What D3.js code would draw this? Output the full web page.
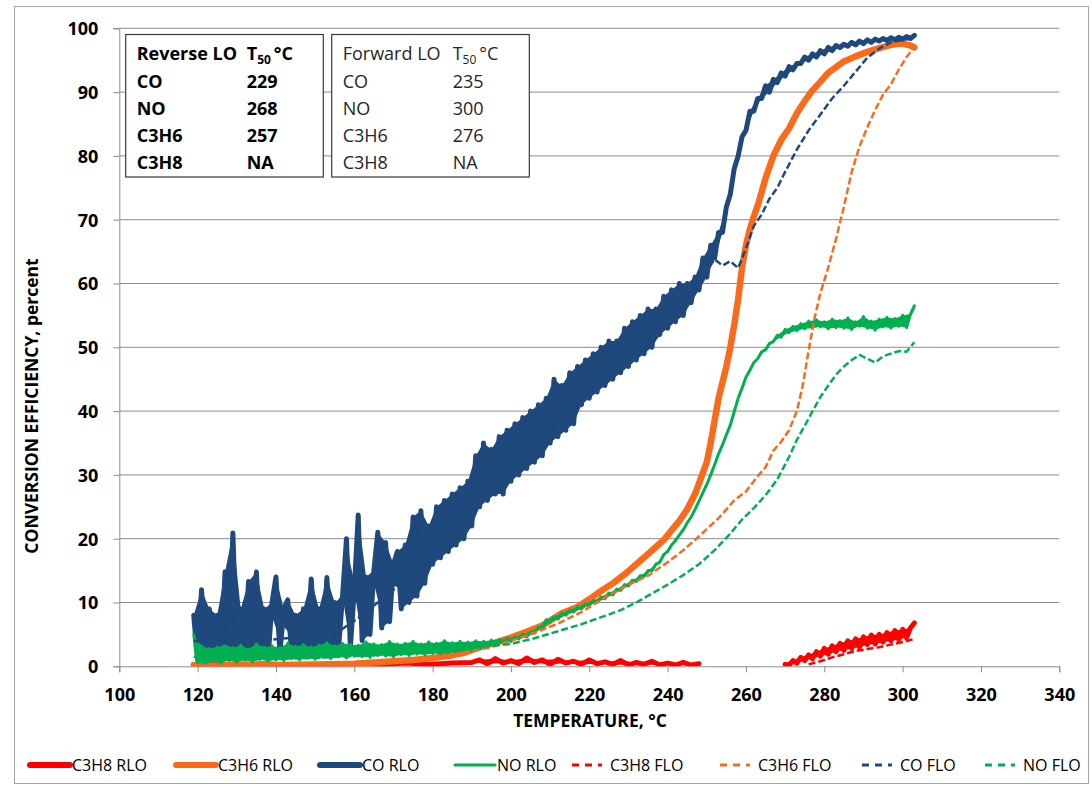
<!DOCTYPE html>
<html>
<head>
<meta charset="utf-8">
<script src="https://cdn.jsdelivr.net/npm/d3@7"></script>
<style>
  body { margin: 0; background: #fff; }
  text { font-family: "Open Sans", sans-serif; }
</style>
</head>
<body>
<div id="chart"></div>
<script>
// temperature grid (deg C) for the densely logged RLO traces
const tempsDense = [
  119,120,121,122,123,124,125,126,127,128,
  129,130,131,132,133,134,135,136,137,138,
  139,140,141,142,143,144,145,146,147,148,
  149,150,151,152,153,154,155,156,157,158,
  159,160,161,162,163,164,165,166,167,168,
  169,170,171,172,173,174,175,176,177,178,
  179,180,181,182,183,184,185,186,187,188,
  189,190,191,192,193,194,195,196,197,198,
  199,200,201,202,203,204,205,206,207,208,
  209,210,211,212,213,214,215,216,217,218,
  219,220,221,222,223,224,225,226,227,228,
  229,230,231,232,233,234,235,236,237,238,
  239,240,241,242,243,244,245,246,247,248,
  249,250,251,252,253,254,255,256,257,258,
  259,260,261,262,263,264,265,266,267,268,
  269,270,271,272,273,274,275,276,277,278,
  279,280,281,282,283,284,285,286,287,288,
  289,290,291,292,293,294,295,296,297,298,
  299,300,301,302,303
];

const coRLO = [
  8,1,12,2,9,1,8,2,14.8,3,
  20.9,2,9,1.5,13.3,2,14.8,2.5,9,1.5,
  10,14,2,9,10.4,2,8,1.5,9,2,
  13.7,3,9,2,13.9,2.5,10,3,11,20,
  3,12,23.7,4,14,5,15,21,6,19.4,
  7,16,18,9,19,10,23.4,11,24.4,13,
  22,16,25,17,26,18,27,19,28,20,
  29,22,33,25,35,26,34,27,36,27,
  37,29,38,30,39,31,40,32,41,33,
  42,35,45,36,44,37,46,38,47,41,
  48,42,49,43,50,44,51,45,51,46,
  53,47,54,48,55,49,56,50,56,52,
  58,53,59,54,60,55,60,57,61,59,
  64,61,66,64,68,68,72,74,78,80,
  83,84,87,87,89,89,91,90,92,91.5,
  93,92.5,94,93.5,94.5,94.5,95.5,95,96,95.5,
  96.5,96,97,96.5,97.3,97,97.5,97.2,97.8,97.4,
  98,97.6,98.2,97.8,98.3,98,98.4,98.1,98.5,98.2,
  98.6,98.3,98.7,98.4,98.9
];

const noRLO = [
  5,0.5,3.2,0.4,2.8,0.8,3.0,0.5,3.4,0.9,
  2.9,0.6,3.3,1.0,2.7,0.7,3.5,1.1,3.0,0.8,
  3.2,1.0,2.9,0.9,3.6,1.2,3.1,1.0,3.4,1.3,
  3.0,1.1,3.3,1.4,3.7,1.2,3.2,1.5,3.6,1.3,
  3.4,1.6,3.3,1.5,3.8,1.4,3.5,1.7,3.4,1.6,
  3.9,1.5,3.5,1.8,3.6,1.7,3.9,1.9,3.5,1.8,
  3.8,2.0,3.6,1.9,4.0,2.1,3.7,2.2,3.9,2.3,
  3.8,2.5,4.0,2.7,3.9,3.0,4.1,3.3,4.2,3.6,
  4.4,3.9,4.6,4.3,5.0,4.6,5.4,5.2,6.1,6.0,
  7.3,6.9,7.8,7.4,8.3,8.0,8.8,8.5,9.3,9.0,
  9.8,9.5,10.3,10.0,10.9,10.6,11.5,11.2,12.1,11.9,
  12.8,12.6,13.5,13.3,14.2,14.1,15.0,15.0,16.0,16.3,
  17.5,18.0,19.0,19.7,20.6,21.4,22.5,23.4,24.6,25.9,
  27.2,28.5,30.0,31.6,33.3,34.7,36.3,37.8,39.9,42.0,
  43.6,45.3,46.4,47.6,48.2,49.3,49.6,50.6,50.9,51.9,
  51.6,52.8,52.3,53.3,52.6,53.7,52.9,54.1,53.0,54.3,
  53.2,54.0,52.9,54.4,53.1,54.2,53.0,54.6,52.8,54.0,
  53.3,54.8,53.0,54.1,52.7,54.4,53.2,54.7,53.0,54.5,
  53.3,55.0,53.1,55.2,56.5
];

const c3h6RLOTemps = [119,125,130,140,150,160,165,170,175,180,184,188,192,196,200,204,208,213,217,220,
  223,226,229,232,235,239,241,243,245,247,248.5,250,251,252,253,254,255,256,257,258,
  259,260,261,262,263,264,265,267,269,271,273,275,277,279,281,283,285,288,291,294,297,300,302,303];
const c3h6RLO = [0.2,0.1,0.3,0.2,0.3,0.4,0.6,0.8,1.0,1.3,1.6,2.1,3.0,3.7,4.5,5.4,6.4,8.3,9.3,10.5,
  11.8,13.0,14.4,16.0,17.6,19.8,21.3,22.8,24.6,27.0,29.5,32.0,35.0,38.5,42.0,44.5,47.0,50.0,53.5,57.5,
  62.5,66.0,68.5,70.5,72.2,74.3,76.5,80.0,82.5,84.3,86.7,88.6,90.3,91.6,93.0,93.9,94.8,95.6,96.3,96.9,97.4,97.6,97.3,97.0];

const c3h8RLOTemps = [119,125,131,137,143,149,155,161,167,173,179,185,190,192,194,196,198,200,202,204,
  206,208,210,212,214,216,218,220,222,224,226,228,230,232,234,236,238,240,242,244,
  246,248,250,270,271,272,273,274,275,276,277,278,279,280,281,282,283,284,285,286,
  287,288,289,290,291,292,293,294,295,296,297,298,299,300,301,302,303];
const c3h8RLO = [0.2,0.3,0.2,0.4,0.2,0.3,0.2,0.4,0.3,0.5,0.3,0.5,0.6,1.0,0.4,1.2,0.5,0.9,0.4,1.3,
  0.6,1.0,0.3,1.1,0.5,0.8,0.3,1.0,0.4,0.7,0.3,0.9,0.2,0.6,0.3,0.8,0.2,0.5,0.2,0.6,
  0.2,0.4,null,0.3,0.2,0.9,0.5,1.4,0.9,1.8,1.2,2.3,1.6,2.8,1.9,3.2,2.3,3.6,2.5,4.0,
  2.8,4.3,3.0,4.6,3.4,4.9,3.5,5.0,3.8,5.3,4.0,5.6,4.2,5.8,4.5,6.0,6.8];

const c3h8FLOTemps = [276,279,282,285,288,291,294,297,300,303];
const c3h8FLO = [0.3,0.8,1.4,1.9,2.4,2.7,3.0,3.4,3.8,4.3];

const c3h6FLOTemps = [119,140,160,175,185,195,205,212,218,224,230,235,240,244,247,250,253,257,260,263,
  265,267,269,271,273,274.5,276,277.5,279,281,283,285,287,289,291,293,295,297,299,301,303];
const c3h6FLO = [0.1,0.2,0.4,1.0,1.8,3.0,5.0,6.7,8.5,10.8,12.8,14.2,16.3,18.2,19.8,21.5,23.2,26.0,27.4,29.8,
  31.2,33.8,35.2,37.0,40.0,44.0,49.5,54.5,58.5,62.5,67.0,72.0,77.5,81.5,84.5,87.2,89.6,91.2,93.5,95.5,97.0];

const coFLOTemps = [119,125,135,145,155,162,170,180,190,200,210,220,228,235,240,245,248,250,252,254,
  256,258,260,262,264,266,268,270,273,276,279,282,285,288,291,294,297,300,303];
const coFLO = [4,3.5,4,4.5,5,8,12,18,25,31,37,43,47.5,50,53.5,57,60,62,63.8,62.8,
  63.5,62.4,65.5,69,70.8,73.3,75,77.5,81,84,86.5,89,91,93.2,95.4,96.8,97.8,98.2,98.4];

const noFLOTemps = [119,130,140,150,160,170,180,190,200,206,212,218,224,228,232,236,240,244,248,252,
  256,259,262,265,268,271,273,275,277,279,281,283,285,287,289,291,293,295,297,299,301,303];
const noFLO = [1.5,1.0,1.2,1.3,1.6,1.9,2.3,2.9,3.5,4.4,5.5,6.6,7.9,8.8,10.0,11.4,12.8,14.3,16.0,18.2,
  20.8,23.0,24.8,26.8,29.3,32.8,35.5,37.7,40.0,42.2,44.0,45.7,47.0,48.0,48.8,48.2,47.6,48.6,49.0,49.4,49.3,50.8];

const xTicks = [100,120,140,160,180,200,220,240,260,280,300,320,340];
const yTicks = [0,10,20,30,40,50,60,70,80,90,100];

const reverseRows = [["CO","229"],["NO","268"],["C3H6","257"],["C3H8","NA"]];
const forwardRows = [["CO","235"],["NO","300"],["C3H6","276"],["C3H8","NA"]];

const colors = { c3h8: "#ff0000", c3h6: "#f96a1b", co: "#1f497d", no: "#00b050" };

// series in Excel draw order; "dense" ones are noisy logs drawn as a filled band
const series = [
  { name: "C3H8 RLO", t: c3h8RLOTemps, v: c3h8RLO, color: colors.c3h8, w: 5, dash: null, dense: true },
  { name: "C3H6 RLO", t: c3h6RLOTemps, v: c3h6RLO, color: colors.c3h6, w: 6.5, dash: null },
  { name: "CO RLO",   t: tempsDense,   v: coRLO,   color: colors.co,   w: 5, dash: null, dense: true },
  { name: "NO RLO",   t: tempsDense,   v: noRLO,   color: colors.no,   w: 3, dash: null, dense: true },
  { name: "C3H8 FLO", t: c3h8FLOTemps, v: c3h8FLO, color: colors.c3h8, w: 2.5, dash: "7,3" },
  { name: "C3H6 FLO", t: c3h6FLOTemps, v: c3h6FLO, color: colors.c3h6, w: 2.5, dash: "7,3" },
  { name: "CO FLO",   t: coFLOTemps,   v: coFLO,   color: colors.co,   w: 2.5, dash: "7,3" },
  { name: "NO FLO",   t: noFLOTemps,   v: noFLO,   color: colors.no,   w: 2.5, dash: "7,3" }
];

const width = 1092, height = 786;
const plot = { left: 119.3, right: 1059.3, top: 28.3, bottom: 666.3 };

const svg = d3.select("#chart").append("svg")
  .attr("width", width)
  .attr("height", height);

svg.append("rect")
  .attr("x", 14.5).attr("y", 6.5)
  .attr("width", 1074).attr("height", 777)
  .attr("fill", "#fff")
  .attr("stroke", "#a6a6a6");

const x = d3.scaleLinear().domain([100, 340]).range([plot.left, plot.right]);
const y = d3.scaleLinear().domain([0, 100]).range([plot.bottom, plot.top]);

// gridlines
svg.append("g")
  .selectAll("line")
  .data(yTicks.filter(d => d > 0))
  .join("line")
  .attr("x1", plot.left).attr("x2", plot.right)
  .attr("y1", d => y(d)).attr("y2", d => y(d))
  .attr("stroke", "#8c8c8c").attr("stroke-width", 1);

// axes
const yAxis = svg.append("g")
  .attr("transform", `translate(${plot.left},0)`)
  .call(d3.axisLeft(y).tickValues(yTicks).tickSize(6).tickPadding(15));
const xAxis = svg.append("g")
  .attr("transform", `translate(0,${plot.bottom})`)
  .call(d3.axisBottom(x).tickValues(xTicks).tickSize(6));

[yAxis, xAxis].forEach(g => {
  g.select(".domain").attr("stroke", "#8c8c8c");
  g.selectAll(".tick line").attr("stroke", "#8c8c8c");
  g.selectAll(".tick text")
    .attr("font-family", "Open Sans")
    .attr("font-size", 18)
    .attr("font-weight", "bold")
    .attr("fill", "#000");
});
yAxis.selectAll(".tick text").attr("dy", "0.36em");
xAxis.selectAll(".tick text").attr("dy", null).attr("y", 35);

// data lines
svg.append("clipPath").attr("id", "plotClip")
  .append("rect")
  .attr("x", plot.left).attr("y", plot.top - 4)
  .attr("width", plot.right - plot.left).attr("height", plot.bottom - plot.top + 4);

const lineGen = d3.line()
  .defined(d => d[1] != null)
  .x(d => x(d[0]))
  .y(d => y(d[1]));

// fills the gaps of a zigzag trace: each point spans from itself to its neighbours' mean
const bandGen = d3.area()
  .defined(d => d.lo != null)
  .x(d => x(d.t))
  .y0(d => y(d.lo))
  .y1(d => y(d.hi));

const lines = svg.append("g").attr("clip-path", "url(#plotClip)");
series.forEach(s => {
  const pts = s.t.map((t, i) => [t, s.v[i]]);
  if (s.dense) {
    const band = s.v.map((v, i) => {
      if (v == null) return { t: s.t[i], lo: null, hi: null };
      let a = s.v[Math.max(i - 1, 0)], b = s.v[Math.min(i + 1, s.v.length - 1)];
      if (a == null) a = v;
      if (b == null) b = v;
      const m = (a + b) / 2;
      return { t: s.t[i], lo: Math.min(v, m), hi: Math.max(v, m) };
    });
    lines.append("path")
      .datum(band)
      .attr("fill", s.color)
      .attr("d", bandGen);
  }
  lines.append("path")
    .datum(pts)
    .attr("fill", "none")
    .attr("stroke", s.color)
    .attr("stroke-width", s.w)
    .attr("stroke-linejoin", "round")
    .attr("stroke-linecap", s.dash ? "butt" : "round")
    .attr("stroke-dasharray", s.dash)
    .attr("d", lineGen);
});

// T50 tables
function drawTable(x0, title, rows, bold, color) {
  const g = svg.append("g");
  g.append("rect")
    .attr("x", x0).attr("y", 34.5)
    .attr("width", 197.6).attr("height", 142.5)
    .attr("fill", "#fff")
    .attr("stroke", "#3a3a3a").attr("stroke-width", 1.2);
  const fw = bold ? "bold" : "normal";
  const c1 = x0 + 11, c2 = x0 + 121;
  g.append("text")
    .attr("x", c1).attr("y", 60)
    .attr("font-size", 18).attr("font-weight", fw).attr("fill", color)
    .text(title);
  const t50 = g.append("text")
    .attr("x", c2).attr("y", 60)
    .attr("font-size", 18).attr("font-weight", fw).attr("fill", color);
  t50.append("tspan").text("T");
  t50.append("tspan").attr("font-size", 12).attr("dy", 4).text("50");
  t50.append("tspan").attr("dy", -4).attr("dx", 3).text("°C");
  rows.forEach((r, i) => {
    const yy = 88 + i * 27;
    g.append("text").attr("x", c1).attr("y", yy)
      .attr("font-size", 18).attr("font-weight", fw).attr("fill", color).text(r[0]);
    g.append("text").attr("x", c2).attr("y", yy)
      .attr("font-size", 18).attr("font-weight", fw).attr("fill", color).text(r[1]);
  });
}
drawTable(125.7, "Reverse LO", reverseRows, true, "#000");
drawTable(331.7, "Forward LO", forwardRows, false, "#262626");

// axis titles
svg.append("text")
  .attr("x", 590).attr("y", 727)
  .attr("text-anchor", "middle")
  .attr("font-size", 17.5).attr("font-weight", "bold")
  .text("TEMPERATURE, °C");

svg.append("text")
  .attr("transform", "translate(38,406) rotate(-90)")
  .attr("text-anchor", "middle")
  .attr("font-size", 17.5).attr("font-weight", "bold")
  .text("CONVERSION EFFICIENCY, percent");

// legend
const legendX = [30, 176, 320, 455, 572, 720, 862, 985];
const legend = svg.append("g");
series.forEach((s, i) => {
  const lx = legendX[i];
  const yy = 765;
  if (s.dash) {
    legend.append("line")
      .attr("x1", lx).attr("x2", lx + 30)
      .attr("y1", yy).attr("y2", yy)
      .attr("stroke", s.color).attr("stroke-width", 3)
      .attr("stroke-dasharray", "7,6");
  } else {
    legend.append("line")
      .attr("x1", lx).attr("x2", lx + 40)
      .attr("y1", yy).attr("y2", yy)
      .attr("stroke", s.color).attr("stroke-width", s.name === "NO RLO" ? 3 : 6)
      .attr("stroke-linecap", "round");
  }
  legend.append("text")
    .attr("x", lx + (s.dash ? 38 : 42)).attr("y", yy + 6)
    .attr("font-size", 16).attr("fill", "#000")
    .text(s.name);
});
</script>
</body>
</html>
